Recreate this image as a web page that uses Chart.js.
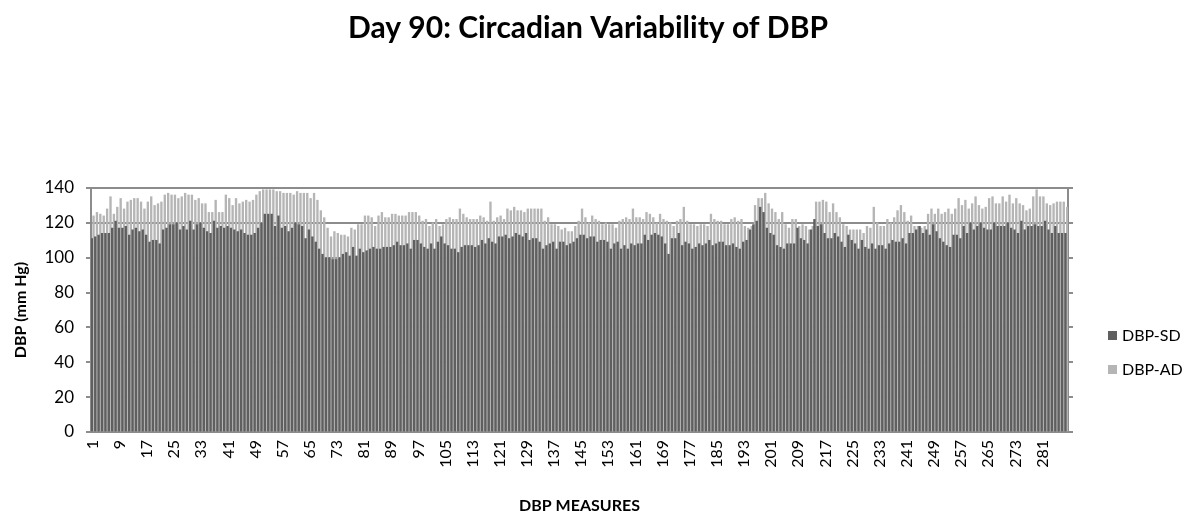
<!DOCTYPE html>
<html>
<head>
<meta charset="utf-8">
<script src="https://cdn.jsdelivr.net/npm/chart.js@4.4.1/dist/chart.umd.min.js"></script>
<style>
  html, body { margin: 0; padding: 0; background: #fff; }
  #wrap { width: 1200px; height: 530px; position: relative; }
</style>
</head>
<body>
<div id="wrap"><canvas id="dbpChart" width="1200" height="530"></canvas></div>
<script>
// measure numbers 1..288 (category axis)
const measures = Array.from({ length: 288 }, (_, i) => String(i + 1));
const tickLabels = ['1', '9', '17', '25', '33', '41', '49', '57', '65', '73', '81', '89', '97', '105',
    '113', '121', '129', '137', '145', '153', '161', '169', '177', '185', '193', '201', '209', '217',
    '225', '233', '241', '249', '257', '265', '273', '281'];

const dbpSD = [
    111, 112, 113, 114, 114, 114, 117, 121,
    117, 117, 118, 113, 116, 117, 115, 116,
    113, 109, 110, 110, 108, 116, 117, 119,
    119, 120, 116, 118, 116, 121, 116, 119,
    120, 117, 115, 114, 121, 117, 118, 117,
    118, 117, 116, 115, 116, 114, 113, 113,
    114, 117, 120, 125, 125, 125, 118, 124,
    117, 118, 115, 117, 120, 119, 118, 111,
    116, 112, 109, 105, 102, 100, 100, 99,
    99, 100, 102, 103, 101, 106, 101, 105,
    103, 104, 105, 106, 105, 105, 106, 106,
    106, 107, 109, 107, 107, 108, 105, 110,
    110, 108, 106, 105, 108, 105, 109, 112,
    108, 107, 105, 105, 103, 106, 107, 107,
    107, 106, 107, 110, 108, 111, 109, 108,
    112, 112, 113, 111, 112, 114, 113, 112,
    114, 110, 111, 111, 109, 105, 107, 108,
    109, 105, 109, 109, 107, 108, 109, 111,
    113, 113, 111, 112, 112, 109, 110, 110,
    109, 105, 108, 109, 105, 107, 105, 108,
    107, 108, 108, 113, 110, 113, 114, 113,
    112, 108, 102, 111, 111, 114, 107, 109,
    108, 105, 106, 108, 107, 108, 110, 107,
    108, 109, 109, 107, 107, 108, 106, 105,
    109, 110, 116, 119, 121, 129, 126, 117,
    114, 113, 107, 106, 105, 108, 108, 108,
    117, 111, 110, 108, 116, 122, 118, 119,
    114, 111, 111, 114, 112, 109, 106, 113,
    110, 108, 105, 110, 106, 105, 108, 105,
    107, 107, 105, 108, 110, 109, 109, 111,
    108, 114, 114, 116, 118, 114, 116, 113,
    119, 115, 111, 109, 107, 106, 113, 113,
    111, 118, 114, 120, 116, 118, 120, 117,
    116, 116, 120, 118, 118, 118, 120, 117,
    116, 114, 121, 116, 118, 118, 119, 118,
    118, 121, 116, 114, 118, 114, 114, 114
];

const dbpAD = [
    124, 126, 125, 124, 128, 135, 125, 129,
    134, 128, 132, 133, 134, 134, 132, 128,
    132, 135, 130, 131, 132, 136, 137, 136,
    136, 134, 135, 137, 136, 136, 133, 134,
    131, 131, 126, 126, 133, 126, 126, 136,
    134, 130, 134, 131, 132, 133, 132, 133,
    136, 138, 139, 139, 139, 139, 138, 138,
    137, 137, 137, 136, 138, 137, 137, 137,
    134, 137, 133, 127, 123, 117, 112, 115,
    114, 113, 113, 112, 117, 116, 119, 119,
    124, 124, 123, 118, 124, 126, 123, 123,
    125, 125, 124, 124, 124, 126, 126, 126,
    124, 121, 122, 118, 120, 122, 118, 119,
    122, 123, 122, 122, 128, 125, 123, 122,
    122, 122, 124, 123, 121, 132, 121, 123,
    124, 122, 128, 127, 129, 127, 127, 126,
    128, 128, 128, 128, 128, 121, 123, 119,
    119, 118, 116, 117, 115, 115, 118, 121,
    128, 123, 120, 124, 122, 121, 119, 120,
    119, 119, 117, 121, 122, 123, 122, 128,
    123, 123, 122, 126, 125, 123, 120, 125,
    122, 121, 120, 118, 121, 122, 129, 121,
    119, 119, 118, 119, 119, 118, 125, 122,
    121, 121, 119, 119, 122, 123, 121, 122,
    118, 117, 118, 130, 134, 134, 137, 131,
    128, 126, 122, 126, 119, 117, 122, 122,
    118, 119, 118, 116, 118, 132, 132, 133,
    132, 126, 131, 126, 123, 119, 118, 116,
    116, 116, 116, 114, 118, 117, 129, 120,
    118, 118, 122, 120, 123, 127, 130, 126,
    121, 124, 118, 118, 117, 118, 125, 128,
    125, 128, 125, 126, 128, 125, 128, 134,
    130, 133, 128, 131, 135, 130, 128, 129,
    134, 135, 131, 131, 135, 132, 136, 131,
    134, 131, 130, 127, 128, 135, 139, 135,
    135, 131, 130, 131, 132, 132, 132, 129
];

const FONT = 'Lato, "Open Sans", sans-serif';
const AXIS_GREY = '#8c8c8c';

// legend drawn at the right, like the Excel original
const sideLegend = {
    id: 'sideLegend',
    afterDraw(chart) {
        const ctx = chart.ctx;
        const x = chart.chartArea.right + 40;
        const rows = [335, 369];
        ctx.save();
        ctx.font = '16px ' + FONT;
        ctx.textBaseline = 'middle';
        chart.data.datasets.forEach((ds, i) => {
            ctx.fillStyle = ds.backgroundColor;
            ctx.fillRect(x, rows[i] - 4, 9, 9);
            ctx.fillStyle = '#000';
            ctx.fillText(ds.label, x + 14, rows[i] + 1);
        });
        ctx.restore();
    }
};

new Chart(document.getElementById('dbpChart'), {
    type: 'bar',
    data: {
        labels: measures,
        datasets: [{
            label: 'DBP-SD',
            data: dbpSD,
            backgroundColor: '#5f5f5f',
            borderWidth: 0
        }, {
            label: 'DBP-AD',
            data: dbpAD,
            backgroundColor: '#b5b5b5',
            borderWidth: 0
        }]
    },
    options: {
        responsive: false,
        animation: false,
        layout: { padding: { left: 0, right: 24, top: 6, bottom: 0 } },
        datasets: {
            bar: { categoryPercentage: 1.0, barPercentage: 1.0 }
        },
        plugins: {
            legend: { display: false },
            tooltip: { enabled: false },
            title: {
                display: true,
                text: 'Day 90: Circadian Variability of DBP',
                color: '#000',
                font: { family: FONT, size: 30, weight: 'bold' },
                padding: { top: 4, bottom: 142 }
            }
        },
        scales: {
            x: {
                grid: { display: true, drawOnChartArea: false, drawTicks: false },
                border: { display: true, color: AXIS_GREY, width: 2 },
                ticks: {
                    autoSkip: false,
                    minRotation: 90,
                    maxRotation: 90,
                    padding: 8,
                    color: '#000',
                    font: { family: FONT, size: 16 },
                    callback: function (value) {
                        const lbl = this.getLabelForValue(value);
                        return tickLabels.includes(lbl) ? lbl : '';
                    }
                },
                title: {
                    display: true,
                    text: 'DBP MEASURES',
                    color: '#000',
                    font: { family: FONT, size: 16, weight: 'bold' },
                    padding: { top: 0, bottom: 15 }
                },
                afterFit: (scale) => { scale.height = 98; }
            },
            y: {
                min: 0,
                max: 140,
                ticks: {
                    stepSize: 20,
                    padding: 12,
                    color: '#000',
                    font: { family: FONT, size: 17 }
                },
                grid: { color: AXIS_GREY, lineWidth: 2, tickLength: 5 },
                border: { display: true, color: AXIS_GREY, width: 2 },
                title: {
                    display: true,
                    text: 'DBP (mm Hg)',
                    color: '#000',
                    font: { family: FONT, size: 16, weight: 'bold' },
                    padding: { top: 11, bottom: 0 }
                },
                afterFit: (scale) => { scale.width = 91; }
            },
            yRight: {
                position: 'right',
                min: 0,
                max: 140,
                ticks: { stepSize: 20, display: false },
                grid: { drawOnChartArea: false, color: AXIS_GREY, lineWidth: 2, tickLength: 5 },
                border: { display: true, color: AXIS_GREY, width: 2 },
                afterFit: (scale) => { scale.width = 108; }
            }
        }
    },
    plugins: [sideLegend]
});
</script>
</body>
</html>
